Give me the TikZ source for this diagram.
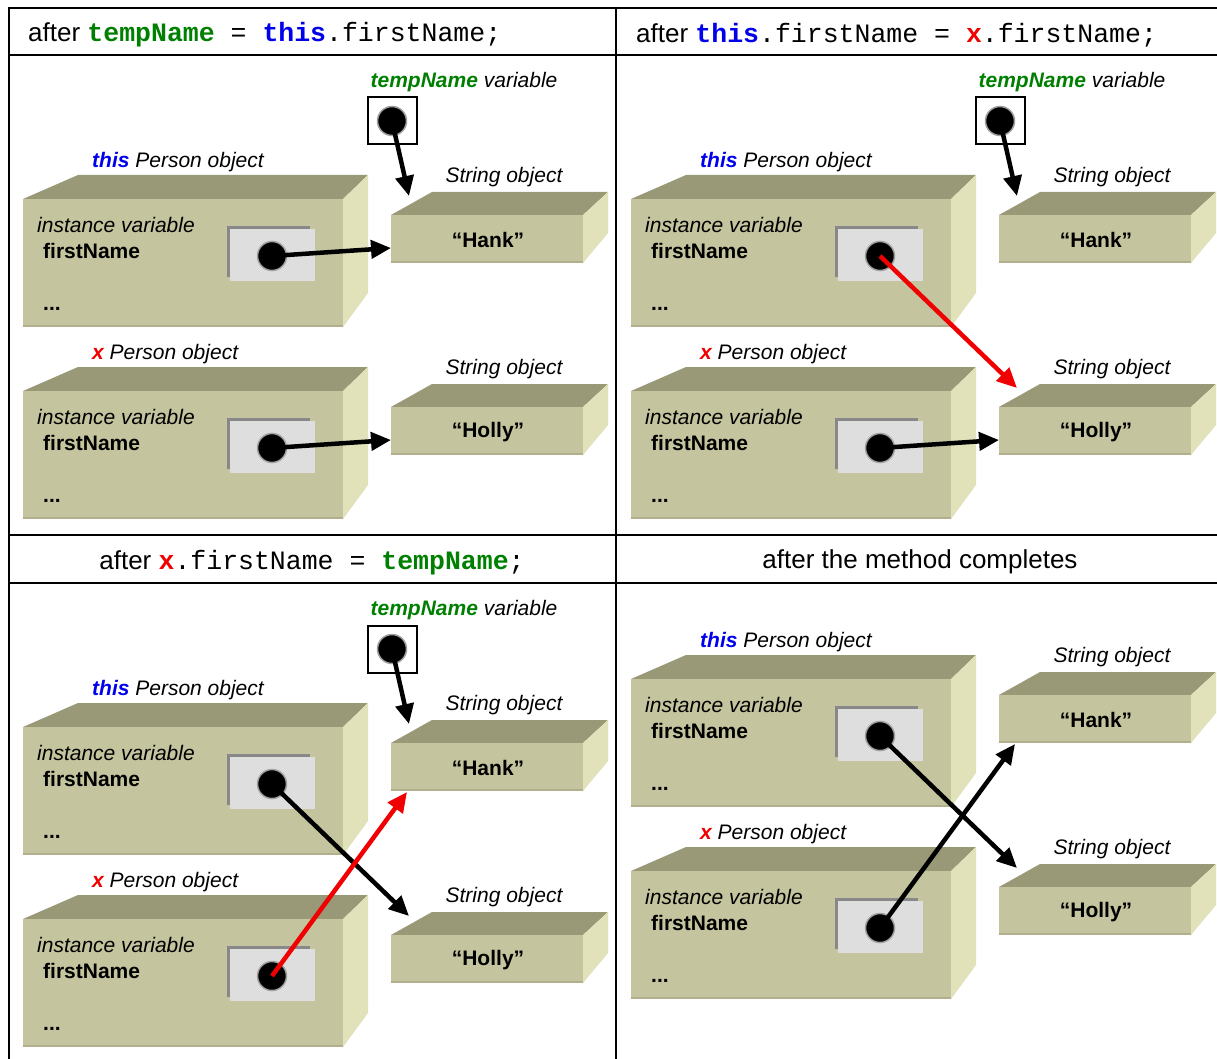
\documentclass[tikz,border=0pt]{standalone}
\usepackage{fontspec}
\setmainfont{Liberation Sans}
\setmonofont[Scale=1.02]{Liberation Mono}
\usetikzlibrary{arrows.meta}

\definecolor{boxfront}{RGB}{196,196,158}
\definecolor{boxtop}{RGB}{153,153,120}
\definecolor{boxside}{RGB}{226,226,186}
\definecolor{boxedge}{RGB}{176,176,140}
\definecolor{codegreen}{RGB}{0,128,0}
\definecolor{codeblue}{RGB}{0,0,235}
\definecolor{codered}{RGB}{240,0,0}
\definecolor{refshadow}{RGB}{136,136,136}
\definecolor{reffill}{RGB}{222,222,222}

\tikzset{
  lbl/.style={font=\fontsize{21}{25}\selectfont\itshape, inner sep=0pt},
  field/.style={font=\fontsize{21}{25}\selectfont\bfseries, inner sep=0pt},
  hdr/.style={font=\fontsize{26}{30}\selectfont, inner sep=0pt},
  refdot/.style={circle, fill=black, draw=gray!75, line width=1.5pt,
                 minimum size=29pt, inner sep=0pt},
  ptr/.style={line width=4.5pt, -{Triangle[length=20pt,width=18pt]}},
  redptr/.style={ptr, draw=codered},
  rule/.style={line width=2.5pt}
}

% code keywords
\newcommand\kwgreen[1]{\textbf{\textcolor{codegreen}{#1}}}
\newcommand\kwblue[1]{\textbf{\textcolor{codeblue}{#1}}}
\newcommand\kwred[1]{\textbf{\textcolor{codered}{#1}}}

% a Person object with its firstName reference field
% #1 name, #2 dx, #3 dy, #4 caption
\newcommand\personobj[4]{%
  \begin{scope}[shift={(#2,#3)}]
    \fill[boxtop] (23,199) -- (78,175) -- (368,175) -- (343,199) -- cycle;
    \fill[boxside] (343,199) -- (368,175) -- (368,293) -- (343,327) -- cycle;
    \fill[boxfront] (23,199) rectangle (343,327);
    \draw[boxedge, line width=1.5pt] (23,326) -- (343,326);
    \node[lbl, anchor=west] (#1-title) at (92,162) {#4};
    \node[lbl, anchor=west] (#1-iv) at (37,225) {instance variable};
    \node[field, anchor=west] (#1-fn) at (43,251) {firstName};
    \node[field, anchor=west] (#1-more) at (43,309) {...};
    \fill[refshadow] (227,226) rectangle (310,277);
    \fill[reffill] (230,229) rectangle (315,281);
    \node[refdot] (#1-dot) at (272,256) {};
  \end{scope}}

% a String object
% #1 name, #2 dx, #3 dy, #4 value
\newcommand\stringobj[4]{%
  \begin{scope}[shift={(#2,#3)}]
    \fill[boxtop] (391,215) -- (432,192) -- (608,192) -- (583,215) -- cycle;
    \fill[boxside] (583,215) -- (608,192) -- (608,233) -- (583,263) -- cycle;
    \fill[boxfront] (391,215) rectangle (583,263);
    \draw[boxedge, line width=1.5pt] (391,262) -- (583,262);
    \node[lbl] (#1-title) at (504,177) {String object};
    \node[field] (#1-val) at (488,240) {#4};
    \coordinate (#1-left) at (391,248);
    \coordinate (#1-top) at (409,196);
    \coordinate (#1-bot) at (407,264);
  \end{scope}}

% the local variable tempName
% #1 name, #2 dx, #3 dy
\newcommand\tempvar[3]{%
  \begin{scope}[shift={(#2,#3)}]
    \node[lbl] (#1-title) at (464,82) {\kwgreen{tempName} variable};
    \node[draw, line width=2pt, minimum width=49pt, minimum height=47pt,
          inner sep=0pt] (#1-box) at (392,121) {};
    \node[refdot] (#1-dot) at (392,121) {};
  \end{scope}}

\begin{document}
\begin{tikzpicture}[x=1pt, y=-1pt]
  \useasboundingbox (0,0) rectangle (1217,1059);
  \fill[white] (0,0) rectangle (1217,1059);

  % table rules
  \draw[rule] (9,8) -- (1217,8);
  \draw[rule] (9,55) -- (1217,55);
  \draw[rule] (9,535) -- (1217,535);
  \draw[rule] (9,583) -- (1217,583);
  \draw[rule] (9,7) -- (9,1059);
  \draw[rule] (616,7) -- (616,1059);

  % headers
  \node[hdr, anchor=west] (h1) at (28,35)
    {after \texttt{\kwgreen{tempName} = \kwblue{this}.firstName;}};
  \node[hdr, anchor=west] (h2) at (636,35)
    {after \texttt{\kwblue{this}.firstName = \kwred{x}.firstName;}};
  \node[hdr] (h3) at (312,563)
    {after \texttt{\kwred{x}.firstName = \kwgreen{tempName};}};
  \node[hdr] (h4) at (920,562) {after the method completes};

  % panel 1
  \personobj{pa}{0}{0}{\textbf{\textcolor{codeblue}{this}} Person object}
  \personobj{pax}{0}{192}{\textbf{\textcolor{codered}{x}} Person object}
  \stringobj{sa}{0}{0}{“Hank”}
  \stringobj{sah}{0}{192}{“Holly”}
  \tempvar{ta}{0}{0}
  \draw[ptr] (ta-dot.center) -- (sa-top);
  \draw[ptr] (pa-dot.center) -- (sa-left);
  \draw[ptr] (pax-dot.center) -- (sah-left);

  % panel 2
  \personobj{pb}{608}{0}{\textbf{\textcolor{codeblue}{this}} Person object}
  \personobj{pbx}{608}{192}{\textbf{\textcolor{codered}{x}} Person object}
  \stringobj{sb}{608}{0}{“Hank”}
  \stringobj{sbh}{608}{192}{“Holly”}
  \tempvar{tb}{608}{0}
  \draw[ptr] (tb-dot.center) -- (sb-top);
  \draw[ptr] (pbx-dot.center) -- (sbh-left);
  \draw[redptr] (pb-dot.center) -- (sbh-top);

  % panel 3
  \personobj{pc}{0}{528}{\textbf{\textcolor{codeblue}{this}} Person object}
  \personobj{pcx}{0}{720}{\textbf{\textcolor{codered}{x}} Person object}
  \stringobj{sc}{0}{528}{“Hank”}
  \stringobj{sch}{0}{720}{“Holly”}
  \tempvar{tc}{0}{528}
  \draw[ptr] (tc-dot.center) -- (sc-top);
  \draw[ptr] (pc-dot.center) -- (sch-top);
  \draw[redptr] (pcx-dot.center) -- (sc-bot);

  % panel 4
  \personobj{pd}{608}{480}{\textbf{\textcolor{codeblue}{this}} Person object}
  \personobj{pdx}{608}{672}{\textbf{\textcolor{codered}{x}} Person object}
  \stringobj{sd}{608}{480}{“Hank”}
  \stringobj{sdh}{608}{672}{“Holly”}
  \draw[ptr] (pd-dot.center) -- (sdh-top);
  \draw[ptr] (pdx-dot.center) -- (sd-bot);
\end{tikzpicture}
\end{document}
